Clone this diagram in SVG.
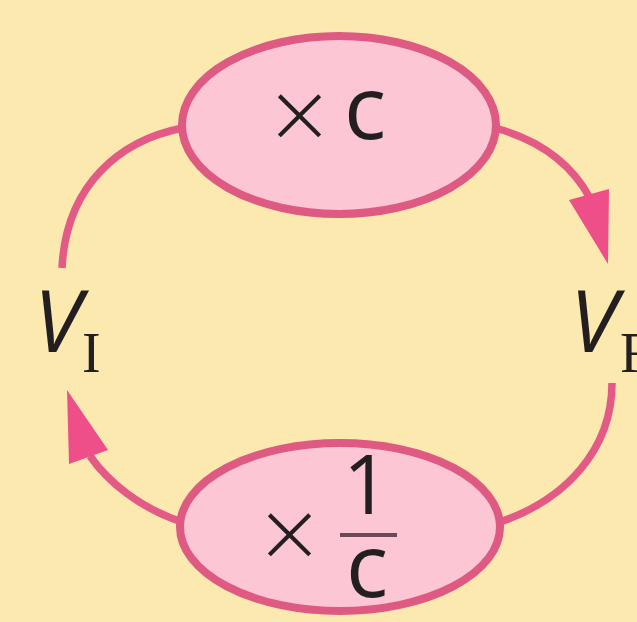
<svg xmlns="http://www.w3.org/2000/svg" width="637" height="622" viewBox="0 0 637 622">
<style>
.conn{fill:none;stroke:#E35A86;stroke-width:7.5;stroke-linecap:butt}
.head{fill:#EE4F88}
.node{fill:#FCC6D5;stroke:#DE5A82;stroke-width:8}
.t{font-family:"Open Sans","Liberation Sans",sans-serif;fill:#231F20}
.x{font-family:"Open Sans","Liberation Sans",sans-serif;fill:#231F20;font-size:100px;font-weight:300}
.sub{font-family:"Liberation Serif",serif;fill:#231F20}
</style>
<rect width="637" height="622" fill="#FCE9AF"/>
<g id="connectors">
<path class="conn" d="M 183 128 C 120 140 66 185 62 268"/>
<path class="conn" d="M 495 128 C 540 140 572 165 590 198"/>
<polygon class="head" points="569,200 609,189 608,264"/>
<path class="conn" d="M 612 383 C 612 450 565 500 500 522"/>
<path class="conn" d="M 182 522 C 140 508 108 482 90 456"/>
<polygon class="head" points="67,390 69,464 108,450"/>
</g>
<g id="node-top">
<ellipse class="node" cx="339" cy="125" rx="157" ry="89"/>
<text class="x" x="271" y="151">×</text>
<text class="t" x="344" y="139" font-size="88" font-weight="500">c</text>
</g>
<g id="node-bottom">
<ellipse class="node" cx="340" cy="527" rx="160" ry="84"/>
<text class="x" x="261" y="570">×</text>
<text class="t" x="343" y="514" font-size="82">1</text>
<rect x="340" y="533" width="57" height="4" fill="#6A4A56"/>
<text class="t" x="346" y="597" font-size="88">c</text>
</g>
<g id="label-vi">
<text class="t" x="34" y="352" font-size="86" font-style="italic">V</text>
<text class="sub" x="82" y="372" font-size="56">I</text>
</g>
<g id="label-vf">
<text class="t" x="570" y="352" font-size="86" font-style="italic">V</text>
<text class="sub" x="620" y="372" font-size="56">F</text>
</g>
</svg>
